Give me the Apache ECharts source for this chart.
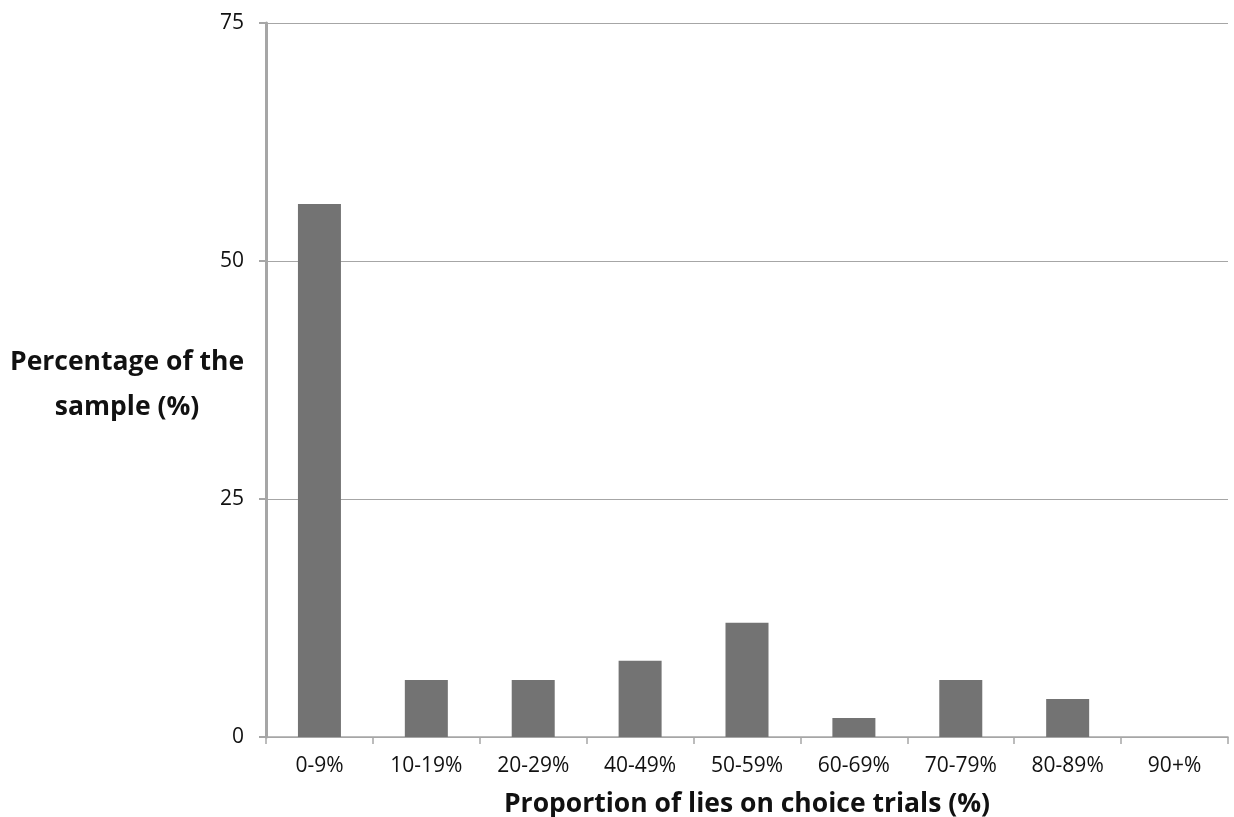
<!DOCTYPE html>
<html><head><meta charset="utf-8">
<script src="https://cdn.jsdelivr.net/npm/echarts@6/dist/echarts.min.js"></script>
<style>html,body{margin:0;padding:0;background:#fff}#c{width:1234px;height:817px}</style>
</head><body><div id="c"></div>
<script>
const categories = ['0-9%','10-19%','20-29%','40-49%','50-59%','60-69%','70-79%','80-89%','90+%'];
const values = [56, 6, 6, 8, 12, 2, 6, 4, 0];
const yTicks = [0, 25, 50, 75];
const xTitle = 'Proportion of lies on choice trials (%)';
const yTitle = 'Percentage of the\nsample (%)';
const font = '"Open Sans", "Liberation Sans", sans-serif';
const chart = echarts.init(document.getElementById('c'));
chart.setOption({
  animation: false,
  backgroundColor: '#fff',
  grid: {left: 266, right: 6, top: 23, bottom: 80, containLabel: false, outerBoundsMode: 'none'},
  xAxis: {
    type: 'category', data: categories,
    axisLine: {lineStyle: {color: '#a6a6a6', width: 1.5}},
    axisTick: {show: true, alignWithLabel: false, length: 7, lineStyle: {color: '#a6a6a6', width: 1.5}},
    axisLabel: {color: '#111', fontSize: 21, fontFamily: font, margin: 19},
    name: xTitle, nameLocation: 'middle', nameGap: 54,
    nameTextStyle: {fontSize: 26.5, fontWeight: 'bold', color: '#111', fontFamily: font}
  },
  yAxis: {
    type: 'value', min: yTicks[0], max: yTicks[yTicks.length-1], interval: 25,
    axisLine: {show: true, lineStyle: {color: '#a6a6a6', width: 3}},
    axisTick: {show: true, length: 7, lineStyle: {color: '#a6a6a6', width: 2}},
    axisLabel: {color: '#111', fontSize: 21, fontFamily: font, margin: 22},
    splitLine: {lineStyle: {color: '#a6a6a6', width: 1.2}}
  },
  graphic: [{
    type: 'text', left: 10, top: 340,
    style: {text: yTitle, fontSize: 26.5, fontWeight: 'bold', fill: '#111', fontFamily: font, textAlign: 'center', lineHeight: 45, x: 117},
  }],
  series: [{
    type: 'bar', data: values, barWidth: 43,
    itemStyle: {color: '#737373'}
  }]
});
</script></body></html>
